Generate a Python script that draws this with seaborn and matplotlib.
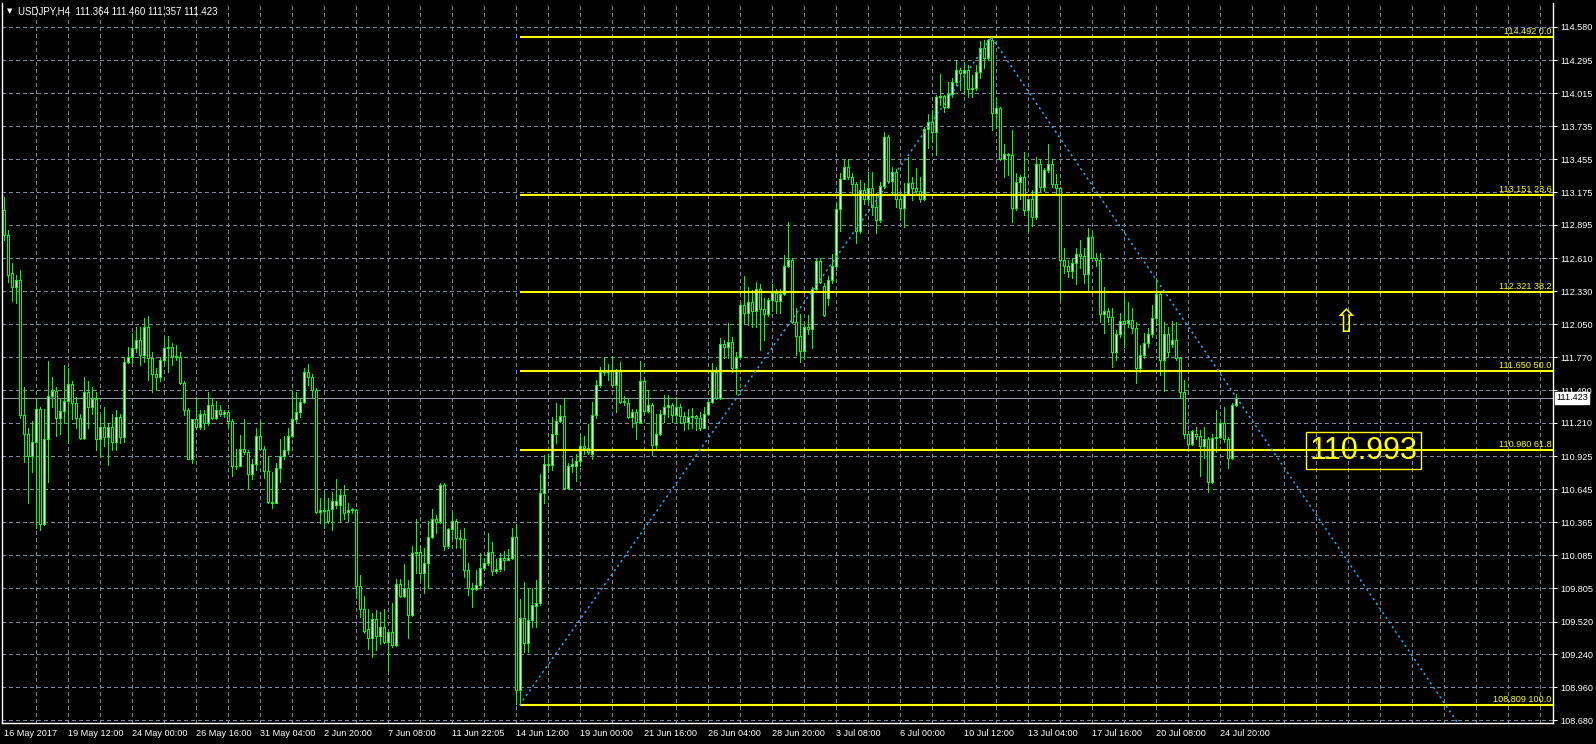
"""
plot.py
=======
USDJPY H4 candlestick chart with a Fibonacci retracement, drawn in the
MetaTrader "green on black" look.

Writes out.png (1596 x 744).
"""

import numpy as np
import matplotlib
matplotlib.use("Agg")
import matplotlib.pyplot as plt
import seaborn as sns

# ---------------------------------------------------------------------------
# Data
# ---------------------------------------------------------------------------
opens = [
    113.02, 112.81, 112.49, 112.37, 112.43, 111.28, 111.12, 110.93, 111.05, 111.33,
    110.35, 111.07, 111.44, 111.48, 111.25, 111.31, 111.40, 111.54, 111.38, 111.25,
    111.08, 111.47, 111.35, 111.41, 111.07, 111.18, 111.09, 111.18, 111.05, 111.26,
    111.09, 111.73, 111.77, 111.85, 111.92, 111.79, 112.03, 111.76, 111.63, 111.60,
    111.75, 111.85, 111.86, 111.78, 111.77, 111.55, 111.32, 110.90, 111.24, 111.18,
    111.29, 111.21, 111.36, 111.25, 111.32, 111.29, 111.30, 111.23, 110.84, 110.84,
    110.99, 110.96, 110.78, 110.86, 111.10, 110.99, 110.80, 110.54, 110.53, 110.83,
    110.93, 110.98, 111.10, 111.24, 111.30, 111.39, 111.64, 111.60, 111.49, 110.45,
    110.47, 110.47, 110.48, 110.51, 110.51, 110.60, 110.45, 110.47, 110.47, 109.82,
    109.63, 109.46, 109.38, 109.54, 109.40, 109.47, 109.35, 109.43, 109.32, 109.84,
    109.74, 109.81, 109.58, 110.10, 110.11, 109.93, 110.02, 110.24, 110.39, 110.37,
    110.68, 110.16, 110.31, 110.38, 110.23, 110.22, 109.96, 109.81, 109.80, 109.83,
    109.98, 110.02, 110.11, 109.95, 109.97, 110.06, 110.04, 110.06, 110.24, 108.94,
    109.55, 109.34, 109.53, 109.65, 109.68, 110.61, 110.86, 110.85, 111.12, 111.23,
    111.27, 110.66, 110.84, 110.84, 110.89, 111.01, 111.00, 110.95, 111.28, 111.53,
    111.64, 111.65, 111.65, 111.53, 111.65, 111.39, 111.38, 111.26, 111.30, 111.22,
    111.57, 111.31, 111.36, 111.02, 111.12, 111.29, 111.35, 111.36, 111.28, 111.35,
    111.27, 111.22, 111.26, 111.27, 111.25, 111.17, 111.29, 111.39, 111.64, 111.42,
    111.88, 111.86, 111.90, 111.68, 111.77, 112.21, 112.15, 112.24, 112.16, 112.35,
    112.18, 112.14, 112.26, 112.32, 112.25, 112.31, 112.55, 112.60, 112.07, 111.95,
    111.82, 112.03, 112.01, 112.35, 112.59, 112.38, 112.27, 112.43, 112.55, 113.03,
    113.29, 113.39, 113.30, 113.24, 112.84, 113.19, 113.12, 113.21, 113.05, 112.94,
    113.23, 113.64, 113.27, 113.35, 113.12, 113.04, 113.16, 113.25, 113.21, 113.18,
    113.12, 113.71, 113.77, 113.69, 113.98, 113.99, 113.90, 114.01, 114.11, 114.21,
    114.19, 114.21, 114.05, 114.06, 114.20, 114.40, 114.32, 114.47, 113.85, 113.89,
    113.46, 113.50, 113.49, 113.04, 113.26, 113.30, 113.02, 113.12, 112.96, 113.41,
    113.22, 113.36, 113.41, 113.24, 113.21, 112.60, 112.55, 112.50, 112.57, 112.65,
    112.63, 112.48, 112.79, 112.61, 112.60, 112.14, 112.16, 112.11, 111.81, 111.97,
    112.08, 112.06, 112.09, 112.02, 111.68, 111.79, 111.89, 111.97, 112.10, 112.31,
    111.75, 111.97, 111.88, 111.92, 111.76, 111.47, 111.12, 111.03, 111.12, 111.10,
    111.01, 111.07, 110.71, 111.08, 111.09, 111.21, 111.07, 110.91, 111.364,
]
highs = [
    113.13, 112.85, 112.57, 112.47, 112.51, 111.52, 111.17, 111.23, 111.42, 111.35,
    111.33, 111.74, 111.60, 111.52, 111.41, 111.70, 111.68, 111.57, 111.43, 111.29,
    111.60, 111.57, 111.52, 111.47, 111.29, 111.35, 111.21, 111.29, 111.32, 111.29,
    111.77, 111.86, 111.98, 112.03, 112.03, 112.10, 112.12, 111.81, 111.68, 111.77,
    111.94, 111.95, 111.89, 111.87, 111.81, 111.57, 111.34, 111.24, 111.43, 111.32,
    111.32, 111.47, 111.41, 111.40, 111.36, 111.32, 111.32, 111.24, 110.99, 111.11,
    111.24, 110.98, 110.90, 111.17, 111.23, 111.01, 110.92, 110.79, 110.87, 111.07,
    111.10, 111.17, 111.48, 111.47, 111.41, 111.68, 111.71, 111.63, 111.51, 110.57,
    110.62, 110.57, 110.62, 110.73, 110.64, 110.68, 110.53, 110.49, 110.48, 109.92,
    109.74, 109.63, 109.59, 109.62, 109.60, 109.63, 109.45, 109.68, 109.88, 109.88,
    110.01, 109.87, 110.16, 110.39, 110.16, 110.15, 110.38, 110.48, 110.43, 110.70,
    110.70, 110.32, 110.44, 110.39, 110.30, 110.32, 110.02, 109.85, 109.96, 110.10,
    110.06, 110.27, 110.20, 110.05, 110.10, 110.12, 110.14, 110.32, 110.35, 109.71,
    109.86, 109.81, 109.81, 109.87, 110.78, 110.94, 110.95, 111.26, 111.38, 111.36,
    111.42, 110.87, 110.91, 110.95, 111.12, 111.10, 111.20, 111.39, 111.58, 111.69,
    111.77, 111.71, 111.78, 111.67, 111.73, 111.44, 111.41, 111.33, 111.33, 111.74,
    111.59, 111.49, 111.38, 111.29, 111.32, 111.45, 111.45, 111.38, 111.43, 111.37,
    111.30, 111.33, 111.34, 111.28, 111.30, 111.35, 111.40, 111.72, 111.69, 111.93,
    111.92, 112.06, 111.94, 111.81, 112.24, 112.46, 112.37, 112.34, 112.41, 112.39,
    112.27, 112.27, 112.39, 112.35, 112.35, 112.64, 112.92, 112.61, 112.19, 112.14,
    112.07, 112.13, 112.37, 112.61, 112.61, 112.40, 112.46, 112.65, 113.08, 113.34,
    113.46, 113.46, 113.34, 113.26, 113.28, 113.25, 113.35, 113.35, 113.17, 113.26,
    113.69, 113.66, 113.39, 113.37, 113.17, 113.25, 113.47, 113.30, 113.38, 113.30,
    113.73, 113.84, 113.87, 114.00, 114.18, 114.00, 114.11, 114.15, 114.30, 114.23,
    114.28, 114.26, 114.17, 114.26, 114.46, 114.47, 114.48, 114.492, 113.98, 113.90,
    113.58, 113.51, 113.70, 113.34, 113.32, 113.52, 113.12, 113.19, 113.47, 113.45,
    113.38, 113.58, 113.46, 113.33, 113.22, 112.70, 112.60, 112.61, 112.70, 112.77,
    112.70, 112.87, 112.83, 112.66, 112.66, 112.37, 112.19, 112.19, 112.00, 112.15,
    112.28, 112.24, 112.19, 112.07, 111.87, 111.98, 112.02, 112.21, 112.44, 112.32,
    112.07, 112.03, 112.08, 112.07, 111.77, 111.58, 111.14, 111.15, 111.18, 111.15,
    111.18, 111.09, 111.12, 111.32, 111.22, 111.35, 111.09, 111.38, 111.460,
]
lows = [
    112.77, 112.41, 112.25, 112.23, 111.25, 110.88, 110.53, 110.79, 110.32, 110.30,
    110.34, 110.71, 111.35, 111.10, 111.12, 111.21, 111.04, 111.24, 111.17, 111.07,
    111.07, 111.17, 111.29, 110.98, 110.92, 111.01, 110.85, 110.98, 110.98, 111.04,
    111.05, 111.72, 111.72, 111.81, 111.70, 111.73, 111.58, 111.47, 111.50, 111.57,
    111.72, 111.64, 111.70, 111.75, 111.54, 111.28, 110.90, 110.87, 111.16, 111.16,
    111.16, 111.19, 111.24, 111.24, 111.27, 111.26, 111.18, 110.76, 110.82, 110.84,
    110.95, 110.66, 110.73, 110.81, 110.98, 110.74, 110.53, 110.49, 110.53, 110.71,
    110.90, 110.95, 111.09, 111.22, 111.26, 111.38, 111.53, 111.42, 110.44, 110.36,
    110.32, 110.36, 110.30, 110.49, 110.38, 110.39, 110.38, 110.44, 109.72, 109.56,
    109.42, 109.29, 109.22, 109.28, 109.33, 109.34, 109.11, 109.30, 109.31, 109.73,
    109.73, 109.38, 109.57, 109.93, 109.87, 109.76, 109.81, 110.23, 110.27, 110.36,
    110.13, 110.15, 110.23, 110.15, 110.15, 109.90, 109.75, 109.64, 109.79, 109.81,
    109.96, 110.00, 109.92, 109.93, 109.95, 109.96, 110.04, 110.05, 108.82, 108.809,
    109.26, 109.26, 109.47, 109.47, 109.66, 110.53, 110.79, 110.81, 111.04, 111.22,
    110.65, 110.65, 110.79, 110.72, 110.84, 110.95, 110.95, 110.90, 111.25, 111.52,
    111.62, 111.58, 111.52, 111.30, 111.38, 111.36, 111.25, 111.18, 111.07, 111.21,
    111.29, 111.30, 110.94, 110.99, 111.11, 111.22, 111.26, 111.22, 111.21, 111.21,
    111.15, 111.16, 111.17, 111.15, 111.15, 111.17, 111.28, 111.38, 111.41, 111.41,
    111.76, 111.76, 111.64, 111.46, 111.76, 112.06, 112.04, 112.03, 112.03, 111.83,
    111.92, 112.12, 112.16, 112.15, 112.15, 112.30, 112.54, 112.06, 111.79, 111.73,
    111.76, 111.97, 111.85, 112.33, 112.40, 112.12, 112.21, 112.40, 112.51, 112.84,
    113.29, 113.29, 113.17, 112.74, 112.83, 113.07, 113.09, 112.98, 112.83, 112.92,
    113.21, 113.25, 113.15, 113.05, 112.94, 112.88, 113.15, 113.11, 113.15, 113.09,
    113.11, 113.55, 113.60, 113.49, 113.92, 113.86, 113.89, 113.98, 114.09, 114.04,
    114.01, 113.98, 113.98, 114.04, 114.15, 114.23, 114.30, 113.70, 113.75, 113.45,
    113.30, 113.32, 112.92, 113.02, 113.12, 112.98, 112.84, 112.89, 112.95, 113.18,
    113.18, 113.35, 113.22, 113.17, 112.26, 112.49, 112.45, 112.44, 112.39, 112.53,
    112.40, 112.33, 112.61, 112.55, 112.07, 111.98, 112.07, 111.69, 111.75, 111.94,
    111.86, 112.03, 111.98, 111.55, 111.64, 111.76, 111.86, 111.94, 112.04, 111.62,
    111.48, 111.77, 111.86, 111.75, 111.42, 111.08, 110.97, 111.02, 111.07, 110.76,
    110.91, 110.62, 110.70, 110.96, 111.08, 111.05, 110.83, 110.90, 111.357,
]
closes = [
    112.81, 112.47, 112.37, 112.43, 111.28, 111.12, 110.93, 111.05, 111.33, 110.35,
    111.07, 111.44, 111.48, 111.25, 111.31, 111.40, 111.54, 111.38, 111.25, 111.08,
    111.47, 111.35, 111.41, 111.07, 111.18, 111.09, 111.18, 111.05, 111.26, 111.09,
    111.73, 111.77, 111.85, 111.92, 111.79, 112.03, 111.76, 111.63, 111.60, 111.75,
    111.85, 111.86, 111.78, 111.77, 111.55, 111.32, 110.90, 111.24, 111.18, 111.29,
    111.21, 111.36, 111.25, 111.32, 111.29, 111.30, 111.23, 110.84, 110.84, 110.99,
    110.96, 110.78, 110.86, 111.10, 110.99, 110.80, 110.54, 110.53, 110.83, 110.93,
    110.98, 111.10, 111.24, 111.30, 111.39, 111.64, 111.60, 111.49, 110.45, 110.47,
    110.46, 110.38, 110.55, 110.55, 110.60, 110.44, 110.47, 110.48, 109.82, 109.63,
    109.44, 109.38, 109.54, 109.40, 109.47, 109.35, 109.43, 109.32, 109.84, 109.74,
    109.81, 109.58, 110.10, 110.11, 109.93, 110.02, 110.24, 110.39, 110.37, 110.68,
    110.16, 110.31, 110.38, 110.23, 110.22, 109.96, 109.81, 109.80, 109.83, 109.98,
    110.02, 110.11, 109.95, 109.97, 110.06, 110.04, 110.06, 110.24, 108.94, 109.55,
    109.34, 109.53, 109.66, 109.68, 110.61, 110.86, 110.85, 111.12, 111.23, 111.27,
    110.66, 110.84, 110.86, 110.89, 111.01, 111.00, 110.96, 111.28, 111.53, 111.64,
    111.65, 111.64, 111.53, 111.65, 111.39, 111.40, 111.26, 111.30, 111.22, 111.57,
    111.31, 111.36, 111.02, 111.12, 111.29, 111.35, 111.36, 111.28, 111.35, 111.27,
    111.22, 111.26, 111.27, 111.25, 111.17, 111.29, 111.39, 111.64, 111.42, 111.88,
    111.86, 111.90, 111.68, 111.77, 112.21, 112.15, 112.24, 112.16, 112.35, 112.18,
    112.14, 112.26, 112.32, 112.25, 112.31, 112.55, 112.60, 112.07, 111.95, 111.82,
    112.03, 112.01, 112.35, 112.59, 112.41, 112.13, 112.43, 112.55, 113.03, 113.29,
    113.39, 113.30, 113.24, 112.84, 113.19, 113.12, 113.21, 113.05, 112.94, 113.23,
    113.64, 113.27, 113.35, 113.12, 113.04, 113.16, 113.25, 113.21, 113.18, 113.12,
    113.71, 113.77, 113.69, 113.98, 113.99, 113.90, 114.01, 114.11, 114.21, 114.19,
    114.21, 114.05, 114.06, 114.20, 114.40, 114.32, 114.47, 113.85, 113.89, 113.46,
    113.50, 113.49, 113.04, 113.26, 113.30, 113.02, 113.12, 112.96, 113.41, 113.22,
    113.36, 113.41, 113.24, 113.21, 112.60, 112.55, 112.50, 112.57, 112.65, 112.63,
    112.48, 112.79, 112.61, 112.60, 112.14, 112.16, 112.11, 111.81, 111.97, 112.08,
    112.06, 112.09, 112.02, 111.68, 111.79, 111.89, 111.97, 112.10, 112.31, 111.75,
    111.97, 111.81, 111.92, 111.76, 111.47, 111.12, 111.03, 111.14, 111.10, 111.01,
    111.07, 110.71, 111.08, 111.09, 111.21, 111.07, 110.91, 111.36, 111.423,
]

# time axis: one label every 16 bars
date_bars = [0, 16, 32, 48, 64, 80, 96, 112, 128, 144,
             160, 176, 192, 208, 224, 240, 256, 272, 288, 304]
date_labels = ["16 May 2017", "19 May 12:00", "24 May 00:00", "26 May 16:00",
               "31 May 04:00", "2 Jun 20:00", "7 Jun 08:00", "11 Jun 22:05",
               "14 Jun 12:00", "19 Jun 00:00", "21 Jun 16:00", "26 Jun 04:00",
               "28 Jun 20:00", "3 Jul 08:00", "6 Jul 00:00", "10 Jul 12:00",
               "13 Jul 04:00", "17 Jul 16:00", "20 Jul 08:00", "24 Jul 20:00"]

price_ticks = [114.580, 114.295, 114.015, 113.735, 113.455, 113.175, 112.895,
               112.610, 112.330, 112.050, 111.770, 111.490, 111.210, 110.925,
               110.645, 110.365, 110.085, 109.805, 109.520, 109.240, 108.960,
               108.680]

# Fibonacci retracement (anchor bars: swing low -> swing high)
fib_bars = [129, 247]
fib_levels = [114.492, 113.151, 112.321, 111.650, 110.980, 108.809]
fib_pcts = ["0.0", "23.6", "38.2", "50.0", "61.8", "100.0"]

# falling trend line from the top through the 20 Jul high
trend_bars = [247, 288]
trend_prices = [114.492, 112.44]

bid_price = 111.423
ohlc_text = "USDJPY,H4  111.364 111.460 111.357 111.423"
note_bar, note_price, note_text = 340, 110.975, "110.993"
arrow_bar, arrow_price = 335.5, 112.06

# ---------------------------------------------------------------------------
# Look
# ---------------------------------------------------------------------------
BG = "black"
CANDLE = "#00FF00"
GRID = "#7A8898"
FIB = "#FFFF00"
TREND = "#22AAEE"
FONT = ["Liberation Sans", "DejaVu Sans"]
FS = 6.6
PX = 0.72             # one pixel in points at 100 dpi

W, H = 1596, 744
N_SLOTS = 387.75      # bar slots across the plot area (4 px each)


def main() -> None:
    sns.set_style("dark", {"axes.facecolor": BG, "figure.facecolor": BG,
                           "axes.grid": False})
    plt.rcParams["font.family"] = FONT

    n = min(len(opens), len(highs), len(lows), len(closes))
    o = np.array(opens[:n])
    h = np.array(highs[:n])
    l = np.array(lows[:n])
    c = np.array(closes[:n])
    h = np.maximum(h, np.maximum(o, c))
    l = np.minimum(l, np.minimum(o, c))
    idx = np.arange(n)

    fig = plt.figure(figsize=(W / 100, H / 100), dpi=100, facecolor=BG)
    ax = fig.add_axes([2 / W, 21 / H, 1551 / W, 720 / H])
    ax.set_facecolor(BG)
    x0, x1 = -0.375, -0.375 + N_SLOTS
    y0, y1 = 108.657, 114.784
    ax.set_xlim(x0, x1)
    ax.set_ylim(y0, y1)

    # ---- grid -------------------------------------------------------------
    ax.hlines(price_ticks, x0, x1, colors=GRID, lw=PX,
              linestyles=(0, (4, 3)), zorder=1, antialiased=False)
    grid_x = np.arange(8, x1, 8)
    ax.vlines(grid_x, y0, y1, colors=GRID, lw=PX,
              linestyles=(0, (4, 3)), zorder=1, antialiased=False)

    # ---- bid line ---------------------------------------------------------
    ax.axhline(bid_price, color="#8C9BAA", lw=PX, zorder=1.5)

    # ---- candles ----------------------------------------------------------
    ax.vlines(idx, l, h, colors=CANDLE, lw=PX, zorder=3, antialiased=False)
    bull = c >= o
    body_lo = np.minimum(o, c)
    body_h = np.maximum(np.abs(c - o), 0.0005)
    ax.bar(idx, body_h, bottom=body_lo, width=0.5,
           color=np.where(bull, "white", "black"),
           edgecolor=CANDLE, linewidth=PX, zorder=4, antialiased=False)

    # ---- fibonacci --------------------------------------------------------
    ax.hlines(fib_levels, fib_bars[0], x1, colors=FIB, lw=1.5, zorder=5)
    for lvl, pct in zip(fib_levels, fib_pcts):
        ax.annotate(f"{lvl:.3f} {pct}", xy=(1, lvl),
                    xycoords=ax.get_yaxis_transform(),
                    xytext=(-1, 0.8), textcoords="offset points",
                    ha="right", va="bottom", color=FIB, fontsize=FS, zorder=6)
    sns.lineplot(x=fib_bars, y=[fib_levels[-1], fib_levels[0]], ax=ax,
                 color=TREND, lw=1.1, linestyle=(0, (1.5, 2.2)), zorder=5)

    # falling ray, extended to the right edge
    slope = (trend_prices[1] - trend_prices[0]) / (trend_bars[1] - trend_bars[0])
    ray_x = [trend_bars[0], x1]
    ray_y = [trend_prices[0], trend_prices[0] + slope * (x1 - trend_bars[0])]
    ax.plot(ray_x, ray_y, color=TREND, lw=1.1, linestyle=(0, (1.5, 2.2)),
            zorder=5)

    # ---- annotations ------------------------------------------------------
    ax.text(note_bar, note_price, note_text, color=FIB, fontsize=22,
            ha="center", va="center", zorder=7,
            bbox=dict(boxstyle="square,pad=0.12", fc="none", ec=FIB, lw=1))
    ax.text(arrow_bar, arrow_price, "\u21e7", color=FIB, fontsize=23,
            ha="center", va="center", family=["DejaVu Sans"], zorder=7)

    # ---- axes -------------------------------------------------------------
    for side in ["left", "right", "bottom"]:
        ax.spines[side].set_color("white")
        ax.spines[side].set_linewidth(1)
        ax.spines[side].set_visible(True)
    ax.spines["top"].set_visible(False)

    ax.yaxis.tick_right()
    ax.set_yticks(price_ticks)
    ax.set_yticklabels([f"{v:.3f}" for v in price_ticks])
    ax.set_xticks(date_bars)
    ax.set_xticklabels(date_labels, ha="left")
    ax.tick_params(axis="both", colors="white", labelcolor="white",
                   labelsize=FS, length=3, width=0.75, direction="out")
    ax.tick_params(axis="y", pad=2)
    ax.tick_params(axis="x", pad=1)

    ax.annotate(f"{bid_price:.3f}", xy=(1, bid_price),
                xycoords=ax.get_yaxis_transform(),
                xytext=(2.2, 0), textcoords="offset points",
                ha="left", va="center", color="black", fontsize=FS,
                bbox=dict(boxstyle="square,pad=0.15", fc="white", ec="white"),
                annotation_clip=False, zorder=8)

    # symbol header
    fig.text(10 / W, 1 - 11 / H, "\u25bc", color="white", fontsize=5,
             ha="center", va="center", family=["DejaVu Sans"])
    fig.text(18 / W, 1 - 11 / H, ohlc_text, color="white", fontsize=FS + 0.4,
             ha="left", va="center")

    fig.savefig("out.png", dpi=100, facecolor=BG)
    plt.close(fig)


if __name__ == "__main__":
    main()
